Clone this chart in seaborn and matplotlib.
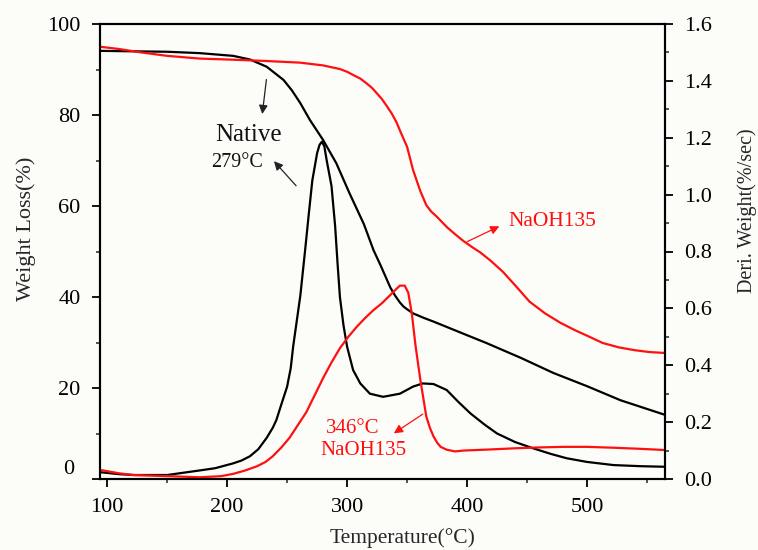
import matplotlib
matplotlib.use("Agg")
import matplotlib.pyplot as plt
import matplotlib.transforms as mtransforms
import seaborn as sns
import pandas as pd
from matplotlib.ticker import MultipleLocator

# ---------------- data ----------------
native_tg_t = [94, 120, 150, 177, 205, 219, 233, 247, 254, 261, 269, 280, 291, 302,
               314, 322, 328, 336, 340, 344, 347, 350, 355, 364, 372, 386, 400, 416,
               445, 472, 500, 528, 565]
native_tg_w = [94.1, 94.0, 93.9, 93.6, 93.0, 92.2, 90.6, 87.7, 85.4, 82.6, 78.9, 74.5,
               69.4, 62.8, 56.0, 50.3, 46.9, 42.1, 40.3, 38.8, 37.9, 37.3, 36.4, 35.4,
               34.6, 33.1, 31.6, 29.9, 26.6, 23.3, 20.4, 17.3, 14.1]

naoh_tg_t = [94, 110, 127, 150, 177, 200, 230, 261, 280, 294, 300, 305, 311, 316, 321,
             325, 329, 333, 337, 341, 345, 350, 355, 361, 366, 370, 375, 383, 390, 397,
             404, 411, 420, 430, 441, 452, 465, 478, 490, 500, 513, 527, 540, 552, 565]
naoh_tg_w = [95.0, 94.5, 93.8, 93.0, 92.4, 92.2, 91.9, 91.5, 90.9, 90.1, 89.5, 88.8,
             88.0, 87.0, 85.9, 84.7, 83.5, 82.0, 80.4, 78.5, 76.0, 73.0, 67.9, 63.3,
             60.2, 58.8, 57.6, 55.4, 53.8, 52.3, 51.0, 49.8, 47.9, 45.5, 42.3, 39.0,
             36.4, 34.3, 32.7, 31.5, 29.9, 28.9, 28.3, 27.9, 27.7]

native_dtg_t = [94, 110, 122, 150, 177, 190, 205, 212, 219, 226, 233, 238, 241, 245,
                250, 253, 255, 261, 265, 268, 271, 275, 277, 279, 281, 283, 287, 290,
                292, 294, 297, 300, 305, 311, 319, 330, 344, 355, 363, 372, 383, 393,
                403, 415, 425, 440, 455, 470, 483, 500, 522, 545, 565]
native_dtg_d = [0.024, 0.017, 0.014, 0.014, 0.03, 0.038, 0.055, 0.065, 0.08, 0.105,
                0.145, 0.18, 0.207, 0.26, 0.325, 0.39, 0.465, 0.645, 0.805, 0.93, 1.05,
                1.146, 1.175, 1.186, 1.17, 1.12, 1.03, 0.89, 0.76, 0.64, 0.54, 0.465,
                0.383, 0.336, 0.30, 0.289, 0.30, 0.325, 0.336, 0.334, 0.313, 0.27, 0.23,
                0.19, 0.16, 0.13, 0.108, 0.088, 0.073, 0.06, 0.049, 0.045, 0.043]

naoh_dtg_t = [94, 110, 122, 150, 177, 195, 205, 215, 225, 232, 238, 245, 252, 259, 266,
              273, 280, 287, 294, 301, 308, 315, 322, 329, 336, 341, 344, 348, 351, 354,
              357, 361, 366, 369, 372, 375, 378, 383, 390, 397, 420, 440, 460, 480, 500,
              522, 545, 564]
naoh_dtg_d = [0.032, 0.02, 0.014, 0.01, 0.006, 0.01, 0.018, 0.03, 0.045, 0.06, 0.08,
              0.11, 0.145, 0.19, 0.235, 0.295, 0.355, 0.41, 0.46, 0.50, 0.535, 0.566,
              0.594, 0.618, 0.647, 0.668, 0.68, 0.68, 0.655, 0.58, 0.47, 0.35, 0.22,
              0.18, 0.15, 0.128, 0.113, 0.103, 0.097, 0.10, 0.104, 0.108, 0.111, 0.113,
              0.113, 0.11, 0.106, 0.102]

x_ticks = [100, 200, 300, 400, 500]
left_ticks = [0, 20, 40, 60, 80, 100]
right_ticks = [0.0, 0.2, 0.4, 0.6, 0.8, 1.0, 1.2, 1.4, 1.6]

# ---------------- style ----------------
sns.set_theme(style="ticks")
plt.rcParams["font.family"] = ["Liberation Serif", "DejaVu Serif"]

bg = "#fcfcf8"
fig = plt.figure(figsize=(7.58, 5.5), dpi=100, facecolor=bg)
ax = fig.add_axes([100 / 758, 71 / 550, 565 / 758, 455 / 550])
ax.set_facecolor(bg)
ax2 = ax.twinx()

lw = 1.6
red = "#ff1010"
df_ntg = pd.DataFrame({"T": native_tg_t, "v": native_tg_w})
df_rtg = pd.DataFrame({"T": naoh_tg_t, "v": naoh_tg_w})
df_ndtg = pd.DataFrame({"T": native_dtg_t, "v": native_dtg_d})
df_rdtg = pd.DataFrame({"T": naoh_dtg_t, "v": naoh_dtg_d})

line_kw = dict(lw=lw, solid_joinstyle="round", solid_capstyle="round")
sns.lineplot(data=df_ntg, x="T", y="v", ax=ax, color="black", **line_kw)
sns.lineplot(data=df_rtg, x="T", y="v", ax=ax, color=red, **line_kw)
sns.lineplot(data=df_ndtg, x="T", y="v", ax=ax2, color="black", **line_kw)
sns.lineplot(data=df_rdtg, x="T", y="v", ax=ax2, color=red, **line_kw)

ax.set_xlim(94, 565)
ax.set_ylim(0, 100)
ax2.set_ylim(0, 1.6)

ax.set_xticks(x_ticks)
ax.set_xticklabels([str(t) for t in x_ticks])
ax.xaxis.set_minor_locator(MultipleLocator(50))
ax.set_yticks(left_ticks)
ax.set_yticklabels([str(t) for t in left_ticks])
ax.yaxis.set_minor_locator(MultipleLocator(10))
ax2.set_yticks(right_ticks)
ax2.set_yticklabels([f"{t:.1f}" for t in right_ticks])
ax2.yaxis.set_minor_locator(MultipleLocator(0.1))

for a in (ax, ax2):
    for s in a.spines.values():
        s.set_visible(True)
        s.set_linewidth(1.5)
        s.set_color("black")

ax.tick_params(axis="both", which="major", direction="out", length=6, width=1.3,
               labelsize=16, pad=8, colors="black", top=False, right=False)
ax.tick_params(axis="both", which="minor", direction="out", length=3, width=1.1,
               top=False, right=False)
ax2.tick_params(axis="y", which="major", direction="out", length=6, width=1.3,
                labelsize=16, pad=8, colors="black")
ax2.tick_params(axis="y", which="minor", direction="out", length=3, width=1.1)

# the "0" label sits slightly raised in the reference
zero_lbl = ax.get_yticklabels()[0]
zero_lbl.set_transform(zero_lbl.get_transform() +
                       mtransforms.ScaledTranslation(-6 / 100, 12 / 100, fig.dpi_scale_trans))

ax.set_xlabel("Temperature(°C)", fontsize=15.5)
ax.xaxis.set_label_coords(0.535, -0.108)
ax.set_ylabel("Weight Loss(%)", fontsize=16)
ax.yaxis.set_label_coords(-0.113, 0.55)
ax2.set_ylabel("Deri. Weight(%/sec)", fontsize=14.5)
ax2.yaxis.set_label_coords(1.128, 0.59)

# ---------------- annotations ----------------
ax.text(217.5, 75.6, "Native", fontsize=18, ha="center", va="center", color="#111111")
ax.text(208.3, 69.5, "279°C", fontsize=14.5, ha="center", va="center", color="#111111")
ax.annotate("", xy=(229, 79.6), xytext=(233, 88.4),
            arrowprops=dict(arrowstyle="-|>", color="#222222", lw=0.9, mutation_scale=13))
ax.annotate("", xy=(237.5, 70.3), xytext=(259, 64),
            arrowprops=dict(arrowstyle="-|>", color="#222222", lw=0.9, mutation_scale=13))

ax.text(471, 56.7, "NaOH135", fontsize=15.5, ha="center", va="center", color=red)
ax.annotate("", xy=(429, 55.8), xytext=(398, 51.9),
            arrowprops=dict(arrowstyle="-|>", color=red, lw=0.9, mutation_scale=13))

ax.text(305, 11.2, "346°C", fontsize=15, ha="center", va="center", color=red)
ax.text(314, 6.2, "NaOH135", fontsize=15, ha="center", va="center", color=red)
ax.annotate("", xy=(337, 9.7), xytext=(365, 14.6),
            arrowprops=dict(arrowstyle="-|>", color=red, lw=0.9, mutation_scale=13))

fig.savefig("out.png", dpi=100, facecolor=bg)
